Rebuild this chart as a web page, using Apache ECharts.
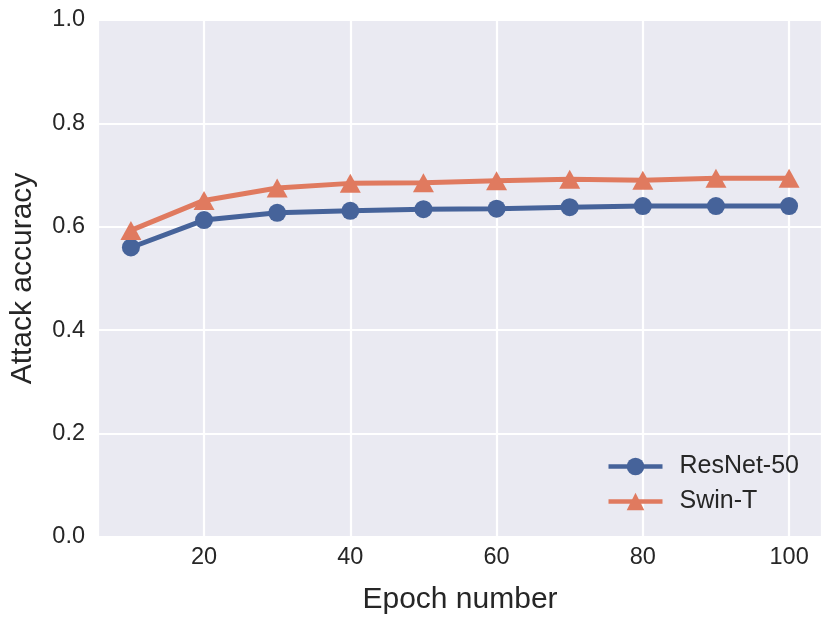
<!DOCTYPE html>
<html>
<head>
<meta charset="utf-8">
<script src="https://cdn.jsdelivr.net/npm/echarts@6/dist/echarts.min.js"></script>
<style>html,body{margin:0;padding:0;background:#fff}#c{width:832px;height:624px}</style>
</head>
<body>
<div id="c"></div>
<script>
const epochs = [10, 20, 30, 40, 50, 60, 70, 80, 90, 100];
const resnet50 = [0.560, 0.613, 0.627, 0.631, 0.634, 0.635, 0.638, 0.640, 0.640, 0.640];
const swinT = [0.593, 0.651, 0.675, 0.684, 0.685, 0.689, 0.692, 0.690, 0.694, 0.694];
const seriesNames = ['ResNet-50', 'Swin-T'];
const colors = ['#46639A', '#E07A5F'];

const font = 'Liberation Sans, Arial, sans-serif';
const chart = echarts.init(document.getElementById('c'));
chart.setOption({
  animation: false,
  backgroundColor: '#ffffff',
  grid: {left: 98, right: 10, top: 20, bottom: 87, show: true, backgroundColor: '#EAEAF2', borderWidth: 0},
  xAxis: {
    type: 'value', min: 5.5, max: 104.5, splitNumber: 5,
    name: 'Epoch number', nameLocation: 'middle', nameGap: 48,
    nameTextStyle: {fontFamily: font, fontSize: 30, color: '#262626'},
    axisLine: {show: false}, axisTick: {show: false},
    axisLabel: {fontFamily: font, fontSize: 23.5, color: '#262626', margin: 9, showMinLabel: false, showMaxLabel: false},
    splitLine: {show: true, lineStyle: {color: '#ffffff', width: 2.2}}
  },
  yAxis: {
    type: 'value', min: 0, max: 1, interval: 0.2,
    name: 'Attack accuracy', nameLocation: 'middle', nameGap: 60,
    nameTextStyle: {fontFamily: font, fontSize: 30, color: '#262626'},
    axisLine: {show: false}, axisTick: {show: false},
    axisLabel: {fontFamily: font, fontSize: 23.5, color: '#262626', margin: 13, formatter: v => v.toFixed(1)},
    splitLine: {show: true, lineStyle: {color: '#ffffff', width: 2.2}}
  },
  legend: {
    right: 33, bottom: 110, orient: 'vertical', itemGap: 10, padding: 0,
    itemWidth: 54, itemHeight: 22,
    lineStyle: {width: 4.5},
    textStyle: {fontFamily: font, fontSize: 25, color: '#262626', padding: [0, 0, 0, 12]},
    data: seriesNames
  },
  series: [
    {
      name: seriesNames[0], type: 'line',
      data: epochs.map((e, i) => [e, resnet50[i]]),
      symbol: 'circle', symbolSize: 18,
      lineStyle: {color: colors[0], width: 5},
      itemStyle: {color: colors[0]}
    },
    {
      name: seriesNames[1], type: 'line',
      data: epochs.map((e, i) => [e, swinT[i]]),
      symbol: 'triangle', symbolSize: [21, 19],
      lineStyle: {color: colors[1], width: 5},
      itemStyle: {color: colors[1]}
    }
  ]
});
</script>
</body>
</html>
